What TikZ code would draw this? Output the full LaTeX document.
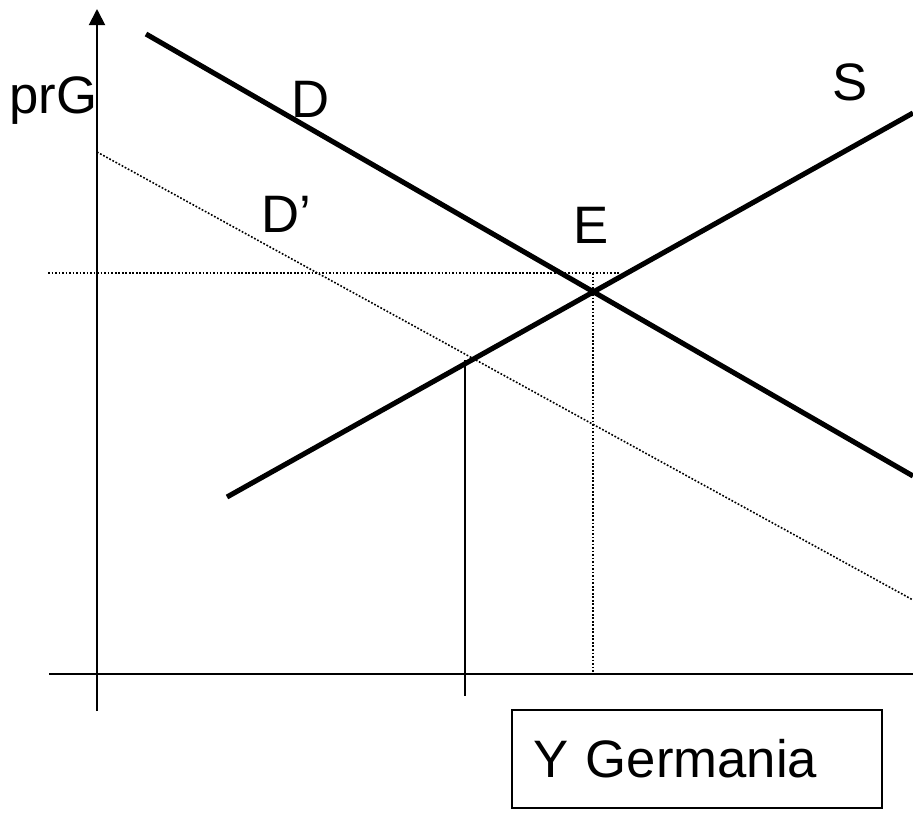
\documentclass[tikz,border=0pt]{standalone}
\usepackage{fontspec}
\setmainfont{Liberation Sans}
\usetikzlibrary{arrows.meta}
\begin{document}
\begin{tikzpicture}[
    x=0.02cm, y=-0.02cm,
    curve/.style={line width=2.9pt, line cap=butt},
    axis/.style={line width=1.1pt},
    guide/.style={line width=0.9pt, dash pattern=on 1pt off 1pt},
    lbl/.style={font=\fontsize{30}{34}\selectfont, inner sep=0pt, anchor=base west},
    legendbox/.style={draw, line width=1.1pt, minimum width=7.4cm, minimum height=1.96cm,
        inner xsep=0.42cm, text width=6.56cm, align=left, font=\fontsize{30}{34}\selectfont},
    >={Triangle[width=0.32cm, length=0.32cm]}
]
\useasboundingbox (0,0) rectangle (913,826);

% Axes
\coordinate (ybot) at (97,711);
\coordinate (ytop) at (97,9);
\coordinate (xleft) at (49,674);
\coordinate (xright) at (913,674);
\draw[axis, ->] (ybot) -- (ytop);
\draw[axis] (xleft) -- (xright);

% Demand, supply and shifted demand
\coordinate (D0) at (146,34);
\coordinate (D1) at (913,476);
\coordinate (S0) at (227,497);
\coordinate (S1) at (913,113);
\coordinate (Dp0) at (97,152);
\coordinate (Dp1) at (913,600);
\draw[curve] (D0) -- (D1);
\draw[curve] (S0) -- (S1);
\draw[guide] (Dp0) -- (Dp1);

% Equilibrium guides
\coordinate (E) at (593,291);
\coordinate (hleft) at (48,273);
\coordinate (hright) at (620,273);
\coordinate (Ebot) at (593,674);
\draw[guide] (hleft) -- (hright);
\draw[guide] (593,273) -- (Ebot);

% New quantity
\coordinate (Q) at (465,360);
\coordinate (Qbot) at (465,696);
\draw[axis] (Q) -- (Qbot);

% Labels
\node[lbl] (prG) at (9,113) {prG};
\node[lbl] (labD) at (291,117) {D};
\node[lbl] (labDp) at (261,232) {D’};
\node[lbl] (labE) at (573,243) {E};
\node[lbl] (labS) at (832,100) {S};
\node[legendbox] (ybox) at (697,759) {Y Germania};
\end{tikzpicture}
\end{document}
